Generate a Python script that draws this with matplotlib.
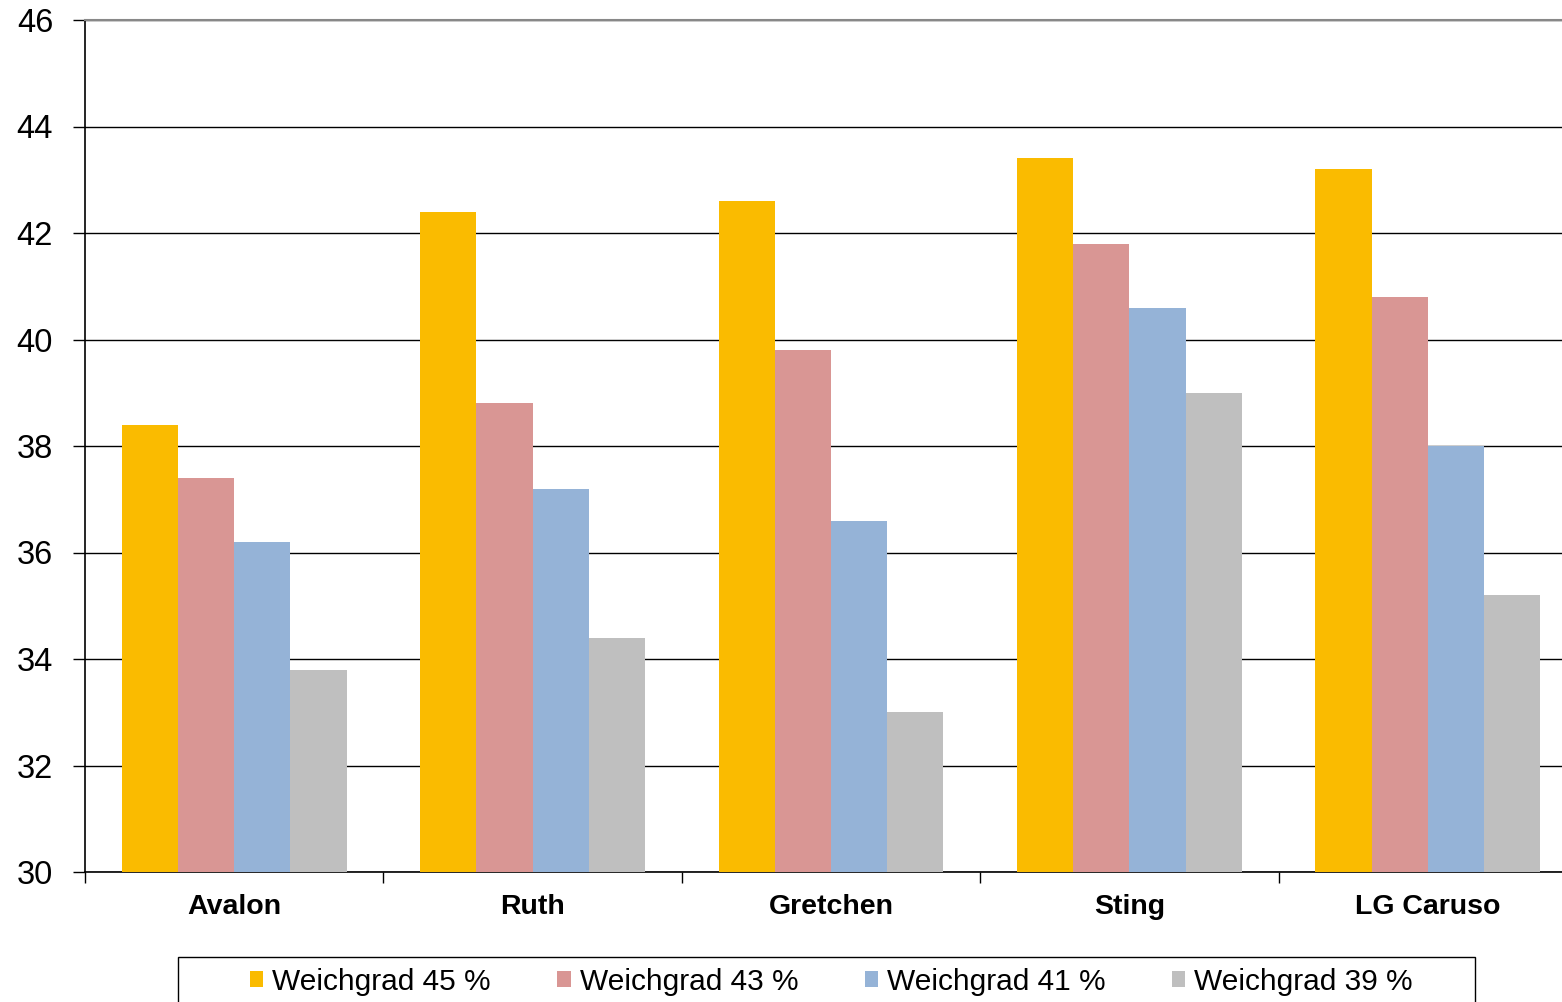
import matplotlib
matplotlib.use("Agg")
import matplotlib.pyplot as plt
from matplotlib.patches import Rectangle
import numpy as np

plt.rcParams['font.family'] = ['Liberation Sans', 'DejaVu Sans']

categories = ["Avalon", "Ruth", "Gretchen", "Sting", "LG Caruso"]
series_names = ["Weichgrad 45 %", "Weichgrad 43 %", "Weichgrad 41 %", "Weichgrad 39 %"]
w45 = [38.4, 42.4, 42.6, 43.4, 43.2]
w43 = [37.4, 38.8, 39.8, 41.8, 40.8]
w41 = [36.2, 37.2, 36.6, 40.6, 38.0]
w39 = [33.8, 34.4, 33.0, 39.0, 35.2]
series = [w45, w43, w41, w39]
colors = ["#FABB00", "#D99694", "#95B3D7", "#BFBFBF"]
yticks = [30, 32, 34, 36, 38, 40, 42, 44, 46]

fig = plt.figure(figsize=(15.62, 10.02), dpi=100)
ax = fig.add_axes([85/1562, 130/1002, 1492/1562, 852/1002])

x = np.arange(len(categories))
bw = 0.1884
for i, (vals, c, name) in enumerate(zip(series, colors, series_names)):
    ax.bar(x + (i - 1.5) * bw, np.array(vals) - 30, bottom=30, width=bw,
           color=c, label=name, zorder=3)

ax.set_xlim(-0.5, len(categories) - 0.5)
ax.set_ylim(30, 46)
ax.set_yticks(yticks)
ax.yaxis.grid(True, color="black", linewidth=1.0, zorder=0)
ax.set_axisbelow(True)
ax.tick_params(axis="y", labelsize=23.5, length=9, width=1, pad=14, direction="out")

ax.set_xticks(x)
ax.set_xticklabels(categories, fontweight="bold", fontsize=20.5)
ax.set_xticks(np.arange(-0.5, len(categories), 1.0), minor=True)
ax.tick_params(axis="x", which="major", length=0, pad=16)
ax.tick_params(axis="x", which="minor", length=8, width=1, direction="out")

for s in ["left", "bottom"]:
    ax.spines[s].set_color("black")
    ax.spines[s].set_linewidth(1.2)
ax.spines["top"].set_color("#888888")
ax.spines["top"].set_linewidth(1.5)
ax.spines["right"].set_visible(False)

# legend frame (extends below the figure edge, as in the reference)
fig.patches.append(Rectangle((178/1562, -0.05), (1475-178)/1562, 0.05 + 1 - 957/1002,
                             transform=fig.transFigure, fill=False,
                             edgecolor="black", linewidth=1.0))

leg = fig.legend(loc="center",
                 bbox_to_anchor=(831.5/1562, 1 - 982/1002),
                 ncol=4, fontsize=21.5, frameon=False,
                 handlelength=0.45, handleheight=0.45, handletextpad=0.3,
                 borderpad=0.0, borderaxespad=0.0, columnspacing=2.22)

fig.savefig("out.png", dpi=100)
